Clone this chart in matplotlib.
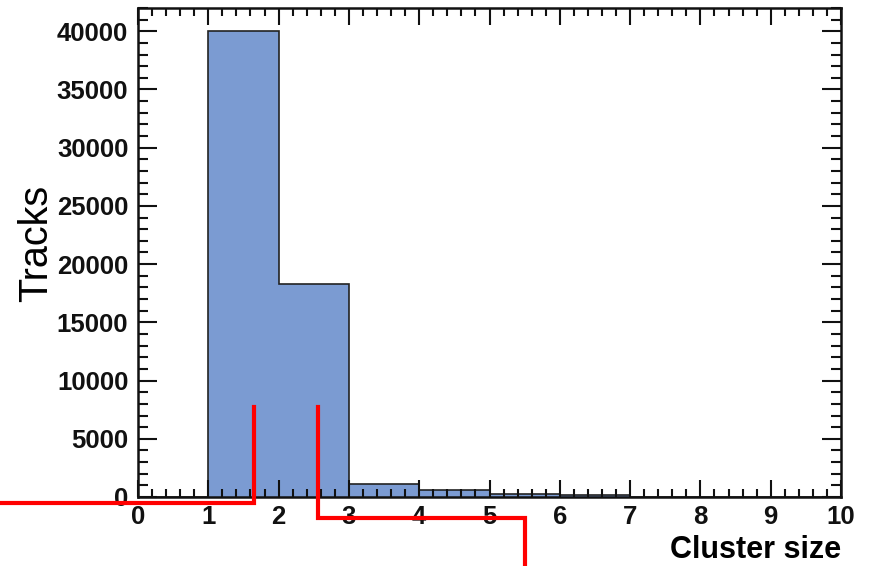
import matplotlib
matplotlib.use("Agg")
import matplotlib.pyplot as plt
from matplotlib.lines import Line2D
from matplotlib.ticker import MultipleLocator

# histogram data (cluster size bins)
bin_edges = [0, 1, 2, 3, 4, 5, 6, 7, 8, 9, 10]
track_counts = [0, 40000, 18300, 1100, 630, 230, 180, 0, 0, 0]

# red overlay lines drawn on top of the image (figure pixels, origin top-left)
overlay_left = [(0, 503), (254, 503), (254, 407)]
overlay_right = [(318, 407), (318, 518), (525, 518), (525, 566)]

W, H = 870, 566
fig = plt.figure(figsize=(W / 100, H / 100), dpi=100)
ax = fig.add_axes([138 / W, 1 - 497 / H, (841 - 138) / W, (497 - 8) / H])

ax.stairs(track_counts, bin_edges, fill=True, color='#7b9bd2')
ax.stairs(track_counts, bin_edges, color='#222222', linewidth=1.2, baseline=0)

ax.set_xlim(0, 10)
ax.set_ylim(0, max(track_counts) * 1.05)

ax.xaxis.set_major_locator(MultipleLocator(1))
ax.xaxis.set_minor_locator(MultipleLocator(0.2))
ax.yaxis.set_major_locator(MultipleLocator(5000))
ax.yaxis.set_minor_locator(MultipleLocator(1000))

ax.tick_params(which='both', direction='in', top=True, right=True, width=1.5, colors='#111111')
ax.tick_params(axis='x', which='major', length=12, pad=6)
ax.tick_params(axis='x', which='minor', length=6)
ax.tick_params(axis='y', which='major', length=14, pad=7)
ax.tick_params(axis='y', which='minor', length=7)

for lab in ax.get_xticklabels() + ax.get_yticklabels():
    lab.set_fontfamily('Liberation Sans')
    lab.set_fontweight('bold')
    lab.set_fontsize(18.5)

for sp in ax.spines.values():
    sp.set_linewidth(1.8)
    sp.set_color('#111111')

ax.set_ylabel('Tracks', fontfamily='Liberation Sans', fontsize=28.5)
ax.yaxis.set_label_coords((36 - 138) / 703, (497 - 243) / 489)
ax.yaxis.label.set_verticalalignment('center')
ax.set_xlabel('Cluster size', fontfamily='Liberation Sans', fontweight='bold', fontsize=22)
ax.xaxis.set_label_coords(1.0, -0.078)
ax.xaxis.label.set_horizontalalignment('right')

for path in (overlay_left, overlay_right):
    xs = [p[0] / W for p in path]
    ys = [1 - p[1] / H for p in path]
    fig.add_artist(Line2D(xs, ys, transform=fig.transFigure, color='#ff0000',
                          linewidth=3, solid_joinstyle='miter', clip_on=False))

fig.savefig('out.png', dpi=100)
